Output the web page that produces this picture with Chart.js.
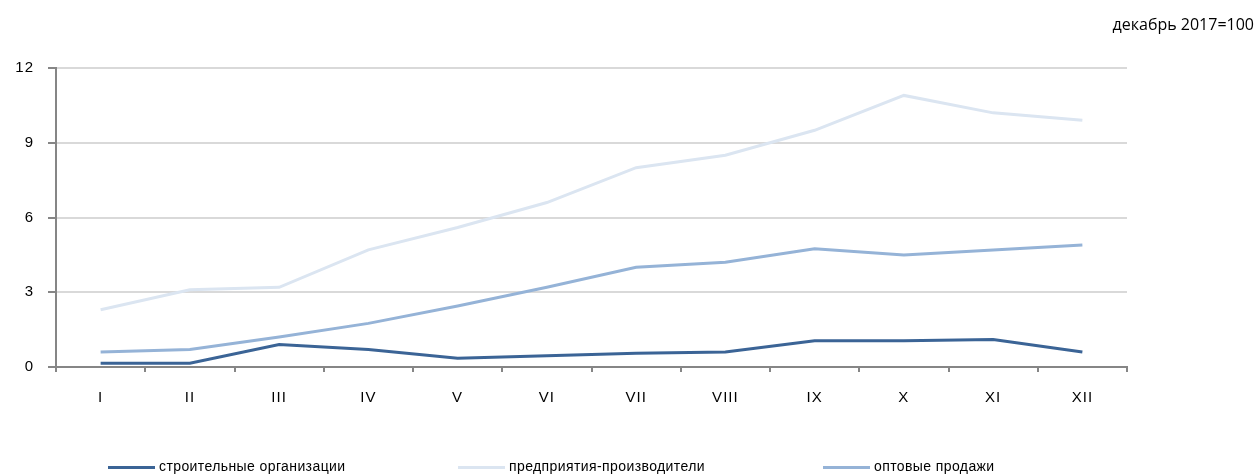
<!DOCTYPE html>
<html>
<head>
<meta charset="utf-8">
<script src="https://cdn.jsdelivr.net/npm/chart.js@4"></script>
<style>
  body { margin: 0; background: #fff; font-family: 'Liberation Sans', Arial, sans-serif; }
  .wrap { position: relative; width: 1258px; height: 475px; }
  canvas { position: absolute; left: 0; top: 0; }
  .note { position: absolute; right: 4px; top: 13px; font-family: 'Open Sans', sans-serif; font-size: 16px; color: #000; }
  .legend-item { position: absolute; top: 458px; font-size: 14px; letter-spacing: 0.4px; color: #000; white-space: nowrap; }
  .legend-item span.swatch { display: inline-block; width: 47px; height: 0; border-top: 3px solid; vertical-align: middle; margin-right: 4px; }
</style>
</head>
<body>
<div class="wrap">
  <canvas id="chart" width="1258" height="475"></canvas>
  <div class="note">декабрь 2017=100</div>
  <div class="legend"></div>
</div>
<script>
const months = ['I', 'II', 'III', 'IV', 'V', 'VI', 'VII', 'VIII', 'IX', 'X', 'XI', 'XII']
const yTicks = [0, 3, 6, 9, 12]

const seriesNames = ['строительные организации', 'предприятия-производители', 'оптовые продажи']
const construction = [0.15, 0.15, 0.9, 0.7, 0.35, 0.45, 0.55, 0.6, 1.05, 1.05, 1.1, 0.6]
const producers = [2.3, 3.1, 3.2, 4.7, 5.6, 6.6, 8.0, 8.5, 9.5, 10.9, 10.2, 9.9]
const wholesale = [0.6, 0.7, 1.2, 1.75, 2.45, 3.2, 4.0, 4.2, 4.75, 4.5, 4.7, 4.9]

const colors = ['#3b6496', '#dbe5f1', '#95b3d7']
const legendLeft = [108, 458, 823]

const createLegend = () => {
  const divLegend = document.querySelector('.legend')
  seriesNames.forEach((name, i) => {
    const item = document.createElement('div')
    item.classList.add('legend-item')
    item.style.left = legendLeft[i] + 'px'
    const swatch = document.createElement('span')
    swatch.classList.add('swatch')
    swatch.style.borderColor = colors[i]
    item.appendChild(swatch)
    item.appendChild(document.createTextNode(name))
    divLegend.appendChild(item)
  })
}

createLegend()

const makeDataset = (label, data, color) => ({
  label: label,
  data: data,
  borderColor: color,
  backgroundColor: color,
  borderWidth: 3,
  pointRadius: 0,
  tension: 0,
  fill: false
})

const tickFont = { family: "'Liberation Sans', Arial, sans-serif", size: 15 }

// slightly wider letter spacing for tick labels, like the original
const spacingPlugin = {
  id: 'spacing',
  beforeDraw: (chart) => { chart.ctx.letterSpacing = '1px' }
}

new Chart(document.getElementById('chart'), {
  type: 'line',
  data: {
    labels: months,
    datasets: [
      makeDataset(seriesNames[1], producers, colors[1]),
      makeDataset(seriesNames[2], wholesale, colors[2]),
      makeDataset(seriesNames[0], construction, colors[0])
    ]
  },
  options: {
    responsive: false,
    animation: false,
    layout: { padding: { left: 0, right: 131, top: 68, bottom: 0 } },
    plugins: { legend: { display: false }, tooltip: { enabled: false } },
    scales: {
      x: {
        offset: true,
        grid: { offset: true, drawOnChartArea: false, tickLength: 5, tickColor: '#868686', lineWidth: 2 },
        border: { color: '#868686', width: 2 },
        ticks: { color: '#000', font: tickFont, padding: 17, maxRotation: 0 },
        afterFit: (scale) => { scale.height = 108 }
      },
      y: {
        min: 0,
        max: 12,
        afterBuildTicks: (scale) => { scale.ticks = yTicks.map(v => ({ value: v })) },
        grid: { color: '#d9d9d9', lineWidth: 2, tickLength: 8, tickColor: '#868686' },
        border: { color: '#868686', width: 2 },
        ticks: { color: '#000', font: tickFont, padding: 14 },
        afterFit: (scale) => { scale.width = 56 }
      }
    }
  },
  plugins: [spacingPlugin]
})
</script>
</body>
</html>
